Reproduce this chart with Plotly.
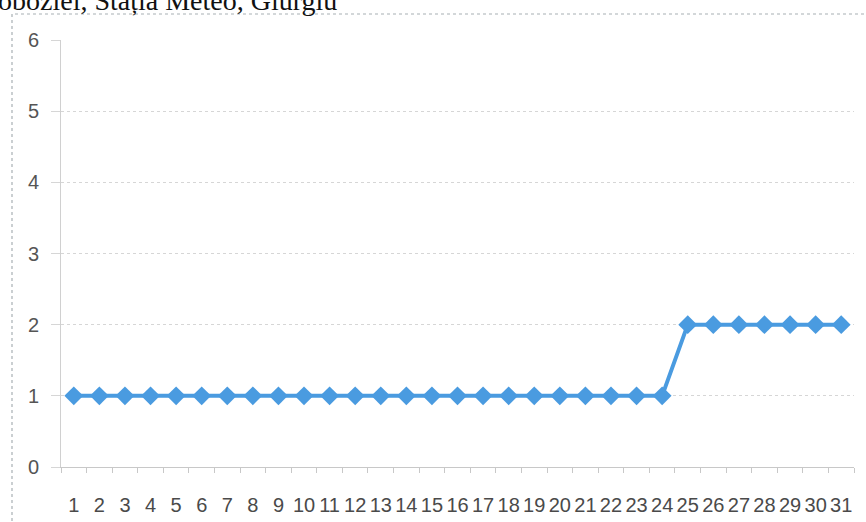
import plotly.graph_objects as go

days = [str(d) for d in range(1, 32)]
values = [1]*24 + [2]*7
y_ticks = [0, 1, 2, 3, 4, 5, 6]
title_text = "obozlei, Stația Meteo, Giurgiu"

W, H = 866, 522
L, R, T, B = 61, 12, 40, 55
pw, ph = W - L - R, H - T - B

def px_x(p):
    return (p - L) / pw

def px_y(p):
    return (H - B - p) / ph

blue = "#4a9be0"
tick_font = "Liberation Sans, Arial"

fig = go.Figure()
fig.add_trace(go.Scatter(
    x=days, y=values, mode="lines+markers",
    line=dict(color=blue, width=4),
    marker=dict(symbol="diamond", size=14.5, color=blue),
    cliponaxis=False, showlegend=False,
))

fig.update_layout(
    width=W, height=H,
    margin=dict(l=L, r=R, t=T, b=B, autoexpand=False),
    paper_bgcolor="white", plot_bgcolor="white",
    font=dict(family=tick_font, color="#555555", size=15),
    xaxis=dict(
        type="category", tickson="boundaries", ticks="outside", ticklen=5,
        range=[-0.5, len(days) - 0.5],
        tickcolor="#c8c8c8", showline=True, linecolor="#c8c8c8", linewidth=1,
        showgrid=False, tickangle=0, automargin=False,
        tickfont=dict(family=tick_font, size=20, color="#4a4a4a"),
        ticklabelstandoff=20,
    ),
    yaxis=dict(
        range=[0, 6], tickvals=y_ticks, ticks="outside", ticklen=9,
        tickcolor="#d6d6d6", showline=True, linecolor="#d0d0d0", linewidth=1,
        showgrid=True, gridcolor="#d6d6d6", griddash="dot", gridwidth=1,
        zeroline=False, automargin=False,
        tickfont=dict(family=tick_font, size=20, color="#555555"),
        ticklabelstandoff=8,
    ),
    shapes=[dict(
        type="rect", xref="paper", yref="paper",
        x0=px_x(12), x1=px_x(880), y0=px_y(540), y1=px_y(14),
        line=dict(color="#a8b0b4", width=1.2, dash="dot"), layer="below",
    )],
    annotations=[dict(
        text=title_text, xref="paper", yref="paper",
        x=px_x(-4), y=px_y(18), xanchor="left", yanchor="bottom",
        showarrow=False,
        font=dict(family="Liberation Serif, Times New Roman", size=28, color="#111111"),
    )],
)

fig.write_html("out.html", config={"displayModeBar": False},
               post_script="document.body.style.margin='0px';document.body.style.overflow='hidden';")
